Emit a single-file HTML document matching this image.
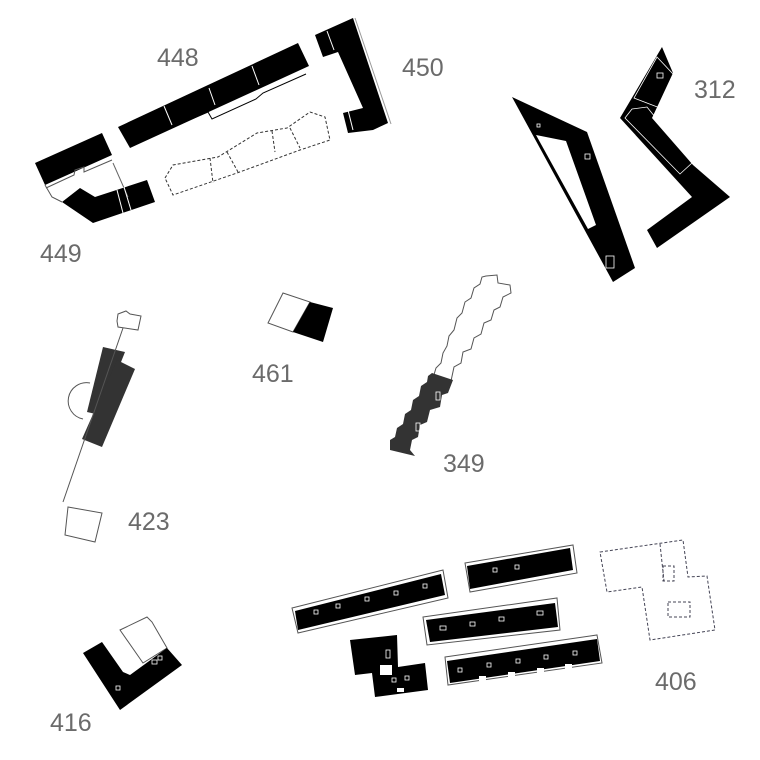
<!DOCTYPE html>
<html><head><meta charset="utf-8"><style>html,body{margin:0;padding:0;background:#fff}svg{display:block}text{font-family:"Liberation Sans",sans-serif;font-size:25px;fill:#6b6b6b}</style></head>
<body>
<svg width="760" height="760" viewBox="0 0 760 760" xmlns="http://www.w3.org/2000/svg">
<!-- 448 -->
<polygon points="118,127 298,43 309,66 130,148" fill="#000"/>
<polyline points="148,128 172,118 175,126 208,112 212,119 256,99 263,93 306,74" fill="none" stroke="#000" stroke-width="1"/>
<line x1="164" y1="106" x2="172" y2="125" stroke="#fff" stroke-width="1"/>
<line x1="209" y1="88" x2="215" y2="105" stroke="#fff" stroke-width="1"/>
<line x1="252" y1="66" x2="259" y2="85" stroke="#fff" stroke-width="1"/>
<!-- 450 -->
<polygon points="315,35 353,18 388,123 373,130 348,133 343,113 363,108 338,52 323,57" fill="#000"/>
<line x1="355" y1="18" x2="391" y2="124" stroke="#999" stroke-width="1"/>
<line x1="327" y1="31" x2="334" y2="50" stroke="#fff" stroke-width="1"/>
<line x1="348" y1="110" x2="353" y2="130" stroke="#fff" stroke-width="1"/>
<!-- 449 -->
<polygon points="35,163 102,133 112,155 45,185" fill="#000"/>
<polygon points="62,202 80,188 95,197 147,180 155,202 93,223" fill="#000"/>
<polyline points="45,185 52,197 62,202" fill="none" stroke="#555" stroke-width="1"/>
<polyline points="46,188 74,175 75,170 84,167 84,172 112,160" fill="none" stroke="#555" stroke-width="1"/>
<line x1="113" y1="163" x2="128" y2="197" stroke="#666" stroke-width="1"/>
<line x1="117" y1="190" x2="123" y2="213" stroke="#fff" stroke-width="1"/>
<line x1="124" y1="187" x2="131" y2="210" stroke="#fff" stroke-width="1"/>
<!-- dashed -->
<polygon points="165,178 173,165 218,157 257,133 287,128 310,112 325,117 330,140 300,150 237,173 173,195" fill="none" stroke="#333" stroke-width="1" stroke-dasharray="3,2"/>
<g stroke="#333" stroke-width="1" stroke-dasharray="3,2"><line x1="210" y1="158" x2="213" y2="183"/><line x1="227" y1="152" x2="238" y2="172"/><line x1="272" y1="131" x2="275" y2="152"/><line x1="290" y1="128" x2="300" y2="148"/></g>
<!-- 312 left -->
<polygon points="512,97 587,132 635,268 613,282" fill="#000"/>
<polygon points="536,135 566,141 596,225 588,229" fill="#fff"/>
<rect x="537" y="124" width="3" height="3" fill="none" stroke="#fff" stroke-width="0.8"/>
<rect x="585" y="154" width="5" height="5" fill="none" stroke="#fff" stroke-width="0.8"/>
<rect x="606" y="256" width="8" height="12" fill="none" stroke="#fff" stroke-width="0.8"/>
<!-- 312 right -->
<polygon points="662,47 673,73 652,118 693,165 730,197 657,248 647,230 692,197 620,118" fill="#000"/>
<polygon points="657,57 673,74 660,108 634,98" fill="none" stroke="#fff" stroke-width="0.8"/>
<polygon points="632,109 647,107 692,163 680,174 625,118" fill="none" stroke="#fff" stroke-width="0.8"/>
<rect x="657" y="73" width="6" height="5" fill="none" stroke="#fff" stroke-width="0.8"/>
<!-- 461 -->
<polygon points="283,293 310,302 293,332 268,323" fill="#fff" stroke="#555" stroke-width="1"/>
<polygon points="310,302 333,308 323,342 293,332" fill="#000"/>
<!-- 423 -->
<path d="M90,383 A17,17 0 0 0 83,419" fill="none" stroke="#555" stroke-width="1"/>
<polygon points="103,347 125,352 100,415 87,412" fill="#333"/>
<polygon points="117,360 135,369 102,447 82,439" fill="#333"/>
<line x1="123" y1="328" x2="63" y2="502" stroke="#555" stroke-width="1"/>
<polygon points="118,314 126,311 130,314 141,316 138,330 118,327 117,321" fill="#fff" stroke="#555" stroke-width="1"/>
<polygon points="68,507 102,513 95,542 65,535" fill="#fff" stroke="#555" stroke-width="1"/>
<!-- 349 -->
<polygon points="486,276 497,275 498,283 510,285 511,293 503,297 500,307 494,310 491,320 484,323 481,334 474,338 471,349 463,352 461,363 454,367 451,381 433,378 436,368 441,363 443,353 447,346 449,336 454,330 457,318 462,313 465,302 471,298 474,288 480,284 482,277" fill="#fff" stroke="#555" stroke-width="1"/>
<polygon points="432,373 453,380 448,393 442,395 440,407 430,410 427,422 420,425 418,437 412,440 410,450 415,456 390,450 390,440 395,437 397,428 403,424 405,414 411,410 413,400 419,396 421,386 427,382 428,376" fill="#333"/>
<g fill="none" stroke="#fff" stroke-width="0.8"><rect x="443" y="331" width="4" height="7"/><rect x="460" y="324" width="4" height="7"/><rect x="436" y="392" width="4" height="8"/><rect x="416" y="423" width="4" height="8"/></g>
<!-- bottom bars -->
<g>
<polygon points="292,608 443,570 448,598 298,633" fill="#fff" stroke="#555" stroke-width="1"/>
<polygon points="295,611 441,574 445,595 298,630" fill="#000"/>
<polygon points="465,563 573,545 577,573 470,592" fill="#fff" stroke="#555" stroke-width="1"/>
<polygon points="467,566 570,548 573,570 470,589" fill="#000"/>
<polygon points="423,617 557,598 560,630 427,645" fill="#fff" stroke="#555" stroke-width="1"/>
<polygon points="426,620 555,603 558,627 430,642" fill="#000"/>
<polygon points="445,657 597,635 602,663 448,685" fill="#fff" stroke="#555" stroke-width="1"/>
<polygon points="447,661 597,639 600,661 450,683" fill="#000"/>
<polygon points="350,640 397,635 398,667 425,663 428,690 375,697 372,673 355,675" fill="#000"/>
<rect x="380" y="665" width="12" height="10" fill="#fff"/>
<g fill="none" stroke="#fff" stroke-width="0.8"><rect x="314" y="610" width="4" height="4"/><rect x="336" y="604" width="4" height="4"/><rect x="365" y="597" width="4" height="4"/><rect x="394" y="591" width="4" height="4"/><rect x="423" y="584" width="4" height="4"/>
<rect x="493" y="568" width="4" height="4"/><rect x="515" y="565" width="4" height="4"/>
<rect x="440" y="626" width="6" height="4"/><rect x="470" y="622" width="5" height="4"/><rect x="499" y="617" width="5" height="4"/><rect x="537" y="611" width="6" height="4"/>
<rect x="458" y="668" width="4" height="4"/><rect x="487" y="663" width="4" height="4"/><rect x="516" y="659" width="4" height="4"/><rect x="544" y="655" width="4" height="4"/><rect x="573" y="651" width="4" height="4"/>
<rect x="386" y="650" width="4" height="8"/><rect x="392" y="678" width="4" height="4"/><rect x="405" y="676" width="4" height="4"/></g>
<g fill="#fff"><rect x="479" y="676" width="7" height="5"/><rect x="508" y="672" width="7" height="5"/><rect x="537" y="668" width="7" height="5"/><rect x="565" y="664" width="7" height="5"/><rect x="397" y="688" width="7" height="4"/></g>
</g>
<!-- 406 -->
<polygon points="600,552 683,540 688,577 707,576 715,630 650,640 642,587 607,592" fill="none" stroke="#445" stroke-width="1" stroke-dasharray="3,2"/>
<polyline points="660,544 664,581" fill="none" stroke="#445" stroke-width="1" stroke-dasharray="3,2"/>
<rect x="663" y="566" width="11" height="15" fill="none" stroke="#445" stroke-width="1" stroke-dasharray="3,2"/>
<rect x="668" y="602" width="22" height="15" fill="none" stroke="#445" stroke-width="1" stroke-dasharray="3,2"/>
<!-- 416 -->
<polygon points="120,630 147,617 152,622 167,648 143,663" fill="#fff" stroke="#555" stroke-width="1"/>
<polygon points="83,653 102,642 123,672 130,675 167,648 182,665 120,710" fill="#000"/>
<g fill="none" stroke="#fff" stroke-width="0.8"><rect x="116" y="686" width="4" height="4"/><rect x="152" y="660" width="5" height="4"/><rect x="158" y="656" width="4" height="4"/></g>
<!-- labels -->
<text x="157" y="66">448</text>
<text x="402" y="76">450</text>
<text x="694" y="98">312</text>
<text x="40" y="262">449</text>
<text x="252" y="382">461</text>
<text x="443" y="472">349</text>
<text x="128" y="530">423</text>
<text x="655" y="690">406</text>
<text x="50" y="731">416</text>
</svg>
</body></html>
